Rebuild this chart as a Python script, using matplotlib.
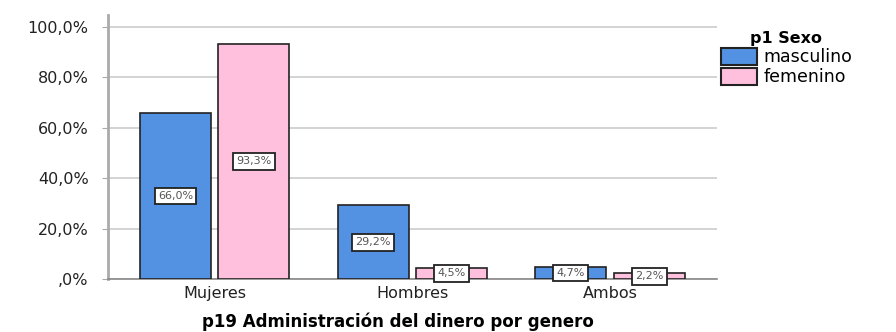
import numpy as np
import matplotlib.pyplot as plt

# data
categories = ['Mujeres', 'Hombres', 'Ambos']
masculino = [66.0, 29.2, 4.7]
femenino = [93.3, 4.5, 2.2]
series_names = ['masculino', 'femenino']
yticks = [0, 20, 40, 60, 80, 100]
ytick_labels = [',0%', '20,0%', '40,0%', '60,0%', '80,0%', '100,0%']

plt.rcParams['font.family'] = ['DejaVu Sans']

fig = plt.figure(figsize=(8.96, 3.32), dpi=100)
ax = fig.add_axes([0.1205, 0.1596, 0.6795, 0.7952])

x = np.arange(len(categories))
w = 0.36
off = 0.198
colors = ['#5392e2', '#ffc0dd']

for i, (vals, col, name) in enumerate(zip([masculino, femenino], colors, series_names)):
    pos = x + (-off if i == 0 else off)
    ax.bar(pos, vals, width=w, color=col, edgecolor='#222222', linewidth=1.2,
           label=name, zorder=3)
    for p, v in zip(pos, vals):
        ax.text(p, v / 2, f'{v:.1f}%'.replace('.', ','), ha='center', va='center',
                fontsize=8, color='#555555', zorder=4,
                bbox=dict(boxstyle='square,pad=0.3', fc='white', ec='#222222', lw=1.3))

ax.set_xlim(-0.54, 2.54)
ax.set_ylim(0, 104.76)
ax.set_yticks(yticks)
ax.set_yticklabels(ytick_labels, fontsize=11.5, color='#222222')
ax.set_xticks(x)
ax.set_xticklabels(categories, fontsize=11.5, color='#222222')
ax.tick_params(axis='x', length=0, pad=5)
ax.tick_params(axis='y', length=4, color='#aaaaaa', pad=10)
ax.yaxis.grid(True, color='#cccccc', linewidth=1.2, zorder=0)
for s in ['top', 'right']:
    ax.spines[s].set_visible(False)
ax.spines['left'].set_color('#aaaaaa')
ax.spines['left'].set_linewidth(2)
ax.spines['bottom'].set_color('#888888')
ax.spines['bottom'].set_linewidth(1.2)

fig.text(398 / 896, 1 - 322 / 332, 'p19 Administración del dinero por genero',
         ha='center', va='center', fontsize=12, fontweight='bold')

leg = ax.legend(loc='upper left', bbox_to_anchor=(0.995, 0.965), frameon=False,
                title='p1 Sexo', fontsize=12.5, handlelength=2.1, handleheight=1.1,
                handletextpad=0.35, labelspacing=0.1, borderaxespad=0)
leg.get_title().set_fontweight('bold')
leg.get_title().set_fontsize(11.5)
for h in leg.legend_handles:
    h.set_edgecolor('#222222')
    h.set_linewidth(1.5)

fig.savefig('out.png', dpi=100)
